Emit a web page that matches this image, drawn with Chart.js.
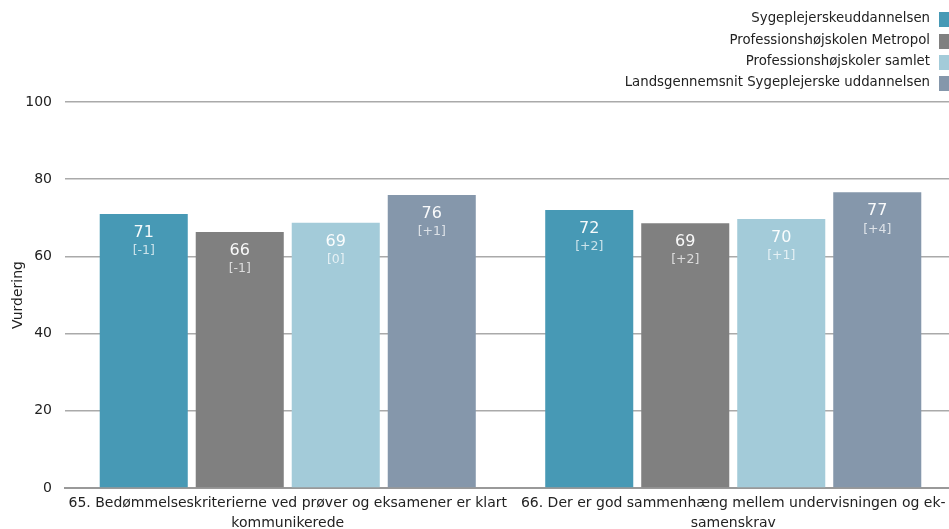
<!DOCTYPE html>
<html>
<head>
<meta charset="utf-8">
<style>
  html, body { margin: 0; padding: 0; background: #fff; overflow: hidden; }
  #wrap { position: relative; width: 956px; height: 529px; }
</style>
<script src="https://cdn.jsdelivr.net/npm/chart.js@4/dist/chart.umd.min.js"></script>
</head>
<body>
<div id="wrap"><canvas id="myChart"></canvas></div>
<script>
// data
var categories = [
  ['65. Bedømmelseskriterierne ved prøver og eksamener er klart', 'kommunikerede'],
  ['66. Der er god sammenhæng mellem undervisningen og ek-', 'samenskrav']
];
var seriesNames = [
  'Sygeplejerskeuddannelsen',
  'Professionshøjskolen Metropol',
  'Professionshøjskoler samlet',
  'Landsgennemsnit Sygeplejerske uddannelsen'
];
var sygeplejerske = [71, 72];
var metropol = [66.3, 68.6];
var phSamlet = [68.7, 69.7];
var landsgennemsnit = [75.9, 76.6];
var changes = [
  ['[-1]', '[+2]'],
  ['[-1]', '[+2]'],
  ['[0]', '[+1]'],
  ['[+1]', '[+4]']
];
var colors = ['#4799b5', '#808080', '#a3cbd9', '#8597ab'];
var yTicks = [0, 20, 40, 60, 80, 100];

var FONT = '"DejaVu Sans", "Liberation Sans", sans-serif';

var seriesValues = [sygeplejerske, metropol, phSamlet, landsgennemsnit];
var datasets = seriesValues.map(function (vals, i) {
  return {
    label: seriesNames[i],
    data: vals,
    backgroundColor: colors[i],
    borderWidth: 0,
    categoryPercentage: 0.862,
    barPercentage: 0.917
  };
});

// value + change labels inside bars
var barLabels = {
  id: 'barLabels',
  afterDatasetsDraw: function (chart) {
    var ctx = chart.ctx;
    ctx.save();
    ctx.textAlign = 'center';
    ctx.textBaseline = 'middle';
    chart.data.datasets.forEach(function (ds, i) {
      chart.getDatasetMeta(i).data.forEach(function (bar, j) {
        ctx.fillStyle = 'rgba(255,255,255,0.95)';
        ctx.font = '16px ' + FONT;
        ctx.fillText(String(Math.round(ds.data[j])), bar.x, bar.y + 19);
        ctx.fillStyle = 'rgba(255,255,255,0.72)';
        ctx.font = '12.5px ' + FONT;
        ctx.fillText(changes[i][j], bar.x, bar.y + 37);
      });
    });
    ctx.restore();
  }
};

// legend stacked at top right, text left of the swatch
var rightLegend = {
  id: 'rightLegend',
  afterDraw: function (chart) {
    var ctx = chart.ctx;
    ctx.save();
    ctx.font = '13.3px ' + FONT;
    ctx.textAlign = 'right';
    ctx.textBaseline = 'middle';
    var ys = [19, 41, 62, 83];
    chart.data.datasets.forEach(function (ds, i) {
      ctx.fillStyle = ds.backgroundColor;
      ctx.fillRect(939, ys[i] - 7, 10, 15);
      ctx.fillStyle = '#222';
      ctx.fillText(ds.label, 930, ys[i]);
    });
    ctx.restore();
  }
};

new Chart(document.getElementById('myChart'), {
  type: 'bar',
  data: { labels: categories, datasets: datasets },
  plugins: [barLabels, rightLegend],
  options: {
    responsive: true,
    maintainAspectRatio: false,
    animation: false,
    layout: { padding: { top: 102, right: 0, left: 0, bottom: 0 } },
    plugins: {
      legend: { display: false },
      tooltip: { enabled: false }
    },
    scales: {
      x: {
        grid: { display: false, drawTicks: false },
        border: { display: true, color: '#999', width: 2 },
        ticks: { color: '#222', font: { family: FONT, size: 14, lineHeight: 1.45 }, padding: 5, maxRotation: 0, autoSkip: false },
        afterFit: function (scale) { scale.height = 41; }
      },
      y: {
        min: 0,
        max: 100,
        afterBuildTicks: function (scale) {
          scale.ticks = yTicks.map(function (v) { return { value: v }; });
        },
        grid: { color: '#aaa', lineWidth: 1.5, drawTicks: false },
        border: { display: false },
        ticks: { color: '#222', font: { family: FONT, size: 14 }, padding: 13 },
        title: { display: true, text: 'Vurdering', color: '#222', font: { family: FONT, size: 14 }, padding: { top: 10, bottom: 0 } },
        afterFit: function (scale) { scale.width = 65; }
      }
    }
  }
});
</script>
</body>
</html>
